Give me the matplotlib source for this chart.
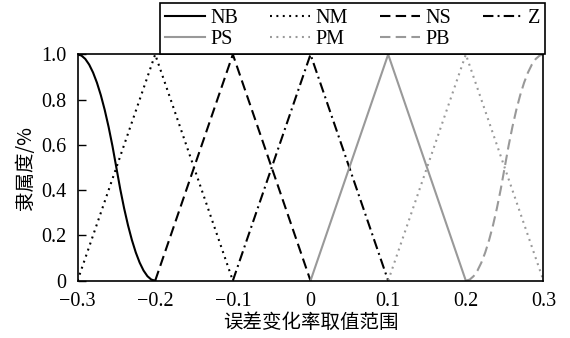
import matplotlib.pyplot as plt

plt.rcParams['font.family'] = ['Liberation Serif', 'Noto Sans CJK SC']
plt.rcParams['lines.scale_dashes'] = False

# triangle membership functions: (left foot, peak, right foot)
tri_x = {
    'NM': [-0.3, -0.2, -0.1],
    'NS': [-0.2, -0.1, 0.0],
    'Z': [-0.1, 0.0, 0.1],
    'PS': [0.0, 0.1, 0.2],
    'PM': [0.1, 0.2, 0.3],
}
tri_y = [0, 1, 0]

# NB (z-shaped) and PB (s-shaped) curves
nb_x = [-0.3 + 0.005 * i for i in range(21)]
nb_y = [1.0, 0.995, 0.98, 0.955, 0.92, 0.875, 0.82, 0.755, 0.68, 0.595, 0.5,
        0.405, 0.32, 0.245, 0.18, 0.125, 0.08, 0.045, 0.02, 0.005, 0.0]
pb_x = [0.2 + 0.005 * i for i in range(21)]
pb_y = [0.0, 0.005, 0.02, 0.045, 0.08, 0.125, 0.18, 0.245, 0.32, 0.405, 0.5,
        0.595, 0.68, 0.755, 0.82, 0.875, 0.92, 0.955, 0.98, 0.995, 1.0]

x_ticks = [-0.3, -0.2, -0.1, 0, 0.1, 0.2, 0.3]
x_labels = ['\u22120.3', '\u22120.2', '\u22120.1', '0', '0.1', '0.2', '0.3']
y_ticks = [0, 0.2, 0.4, 0.6, 0.8, 1.0]
y_labels = ['0', '0.2', '0.4', '0.6', '0.8', '1.0']

gray = '#999999'
dot = (0, (1.4, 3.2))
dash = (0, (7.5, 3.8))
dashdot = (0, (7.5, 3.0, 1.4, 3.0))

fig = plt.figure(figsize=(5.7, 3.38), dpi=100)
ax = fig.add_axes([0.136, 0.1695, 0.8175, 0.6695])

lw = 1.5
h = {}
h['NB'], = ax.plot(nb_x, nb_y, color='black', lw=lw, label='NB')
h['NM'], = ax.plot(tri_x['NM'], tri_y, color='black', lw=lw, ls=dot, label='NM')
h['NS'], = ax.plot(tri_x['NS'], tri_y, color='black', lw=lw, ls=dash, label='NS')
h['Z'], = ax.plot(tri_x['Z'], tri_y, color='black', lw=lw, ls=dashdot, label='Z')
h['PS'], = ax.plot(tri_x['PS'], tri_y, color=gray, lw=lw, label='PS')
h['PM'], = ax.plot(tri_x['PM'], tri_y, color=gray, lw=lw, ls=dot, label='PM')
h['PB'], = ax.plot(pb_x, pb_y, color=gray, lw=lw, ls=dash, label='PB')

ax.set_xlim(-0.3, 0.3)
ax.set_ylim(0, 1)
ax.set_xticks(x_ticks)
ax.set_xticklabels(x_labels)
ax.set_yticks(y_ticks)
ax.set_yticklabels(y_labels)
ax.tick_params(axis='y', direction='in', length=6, width=1, labelsize=14.5, pad=8)
ax.tick_params(axis='x', length=0, labelsize=14.5, pad=8)
for s in ax.spines.values():
    s.set_linewidth(1.2)

ax.set_xlabel('误差变化率取值范围', fontsize=14, family='Noto Sans CJK SC', labelpad=1)
ax.set_ylabel('隶属度/%', fontsize=14, family=['Noto Sans CJK SC', 'Liberation Serif'], labelpad=4)

# legend laid out row-wise: NB NM NS Z / PS PM PB
order = ['NB', 'PS', 'NM', 'PM', 'NS', 'PB', 'Z']
leg = fig.legend([h[k] for k in order], order, ncol=4, loc='lower left',
                 bbox_to_anchor=(0.2807, 0.841, 0.676, 0.14), mode='expand',
                 fontsize=14.5, frameon=True,
                 fancybox=False, edgecolor='black', framealpha=1,
                 handlelength=2.0, handletextpad=0.25, columnspacing=1.0,
                 labelspacing=0.1, borderpad=0.25, borderaxespad=0)
leg.get_frame().set_linewidth(1.2)

fig.savefig('out.png', dpi=100)
